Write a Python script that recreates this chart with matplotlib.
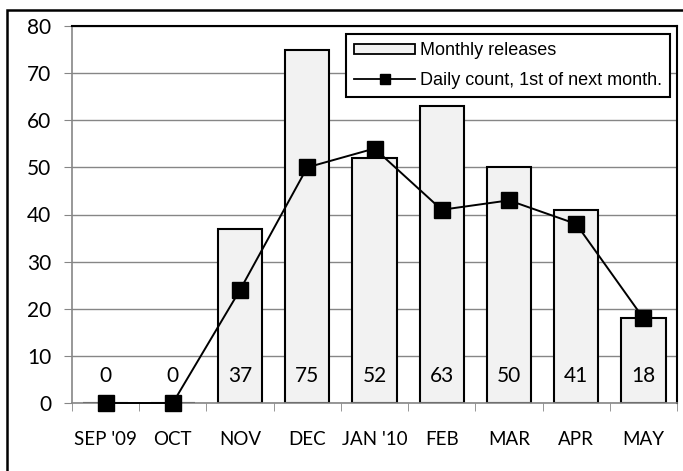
import matplotlib
matplotlib.use("Agg")
import matplotlib.pyplot as plt
from matplotlib.patches import Rectangle, Patch
from matplotlib.lines import Line2D
import numpy as np

months = ["SEP '09", "OCT", "NOV", "DEC", "JAN '10", "FEB", "MAR", "APR", "MAY"]
monthly_releases = [0, 0, 37, 75, 52, 63, 50, 41, 18]
daily_count = [0, 0, 24, 50, 54, 41, 43, 38, 18]
yticks = [0, 10, 20, 30, 40, 50, 60, 70, 80]

fig = plt.figure(figsize=(6.83, 4.71), dpi=100)
ax = fig.add_axes([72/683, 1-403/471, (677-72)/683, (403-26)/471])

x = np.arange(len(months))
grid_c = "#868686"
ax.set_ylim(0, 80)
ax.set_xlim(-0.5, len(months)-0.5)
ax.set_yticks(yticks)
ax.yaxis.grid(True, color=grid_c, lw=1)
ax.set_axisbelow(True)

bars = ax.bar(x, monthly_releases, width=0.66, color="#f2f2f2", edgecolor="black",
              lw=1.5, zorder=2)
ax.plot(x, daily_count, color="black", lw=1.4, marker="s", markersize=12,
        zorder=4, clip_on=False)

for xi, v in zip(x, monthly_releases):
    ax.text(xi, 5.8, str(v), ha="center", va="center", fontsize=15,
            family="Lato", zorder=3)

ax.set_xticks(x)
ax.set_xticklabels(months, family="Lato", fontsize=13.5)
ax.tick_params(axis="x", which="major", length=0, pad=20)
ax.set_xticks(np.arange(-0.5, len(months)), minor=True)
ax.tick_params(axis="x", which="minor", length=6, color=grid_c, direction="out")
ax.tick_params(axis="y", length=6, color=grid_c, labelsize=15, pad=9)
for lab in ax.get_yticklabels():
    lab.set_family("Lato")

ax.spines["left"].set_color(grid_c)
ax.spines["bottom"].set_color(grid_c)
ax.spines["left"].set_lw(1.2)
ax.spines["bottom"].set_lw(1.2)
ax.spines["top"].set_color("black")
ax.spines["right"].set_color("black")
ax.spines["top"].set_lw(1.5)
ax.spines["right"].set_lw(1.5)

h_bar = Patch(facecolor="#f2f2f2", edgecolor="black", lw=1.3)
h_line = Line2D([], [], color="black", lw=1.3, marker="s", markersize=7)
leg = ax.legend([h_bar, h_line], ["Monthly releases", "Daily count, 1st of next month."],
                loc="upper right", bbox_to_anchor=(670/683, 1-34/471),
                bbox_transform=fig.transFigure, frameon=True, fancybox=False,
                prop={"family": "Liberation Sans", "size": 13},
                handlelength=3.4, handleheight=0.5, handletextpad=0.25,
                borderpad=0.45, labelspacing=0.7, borderaxespad=0)
leg.get_frame().set_edgecolor("black")
leg.get_frame().set_linewidth(1.5)
leg.get_frame().set_alpha(1)

fig.add_artist(Rectangle((7/683, -0.02), 1.05, 1-10/471+0.02,
                         transform=fig.transFigure, fill=False,
                         edgecolor="black", lw=1.8))

fig.savefig("out.png", dpi=100)
